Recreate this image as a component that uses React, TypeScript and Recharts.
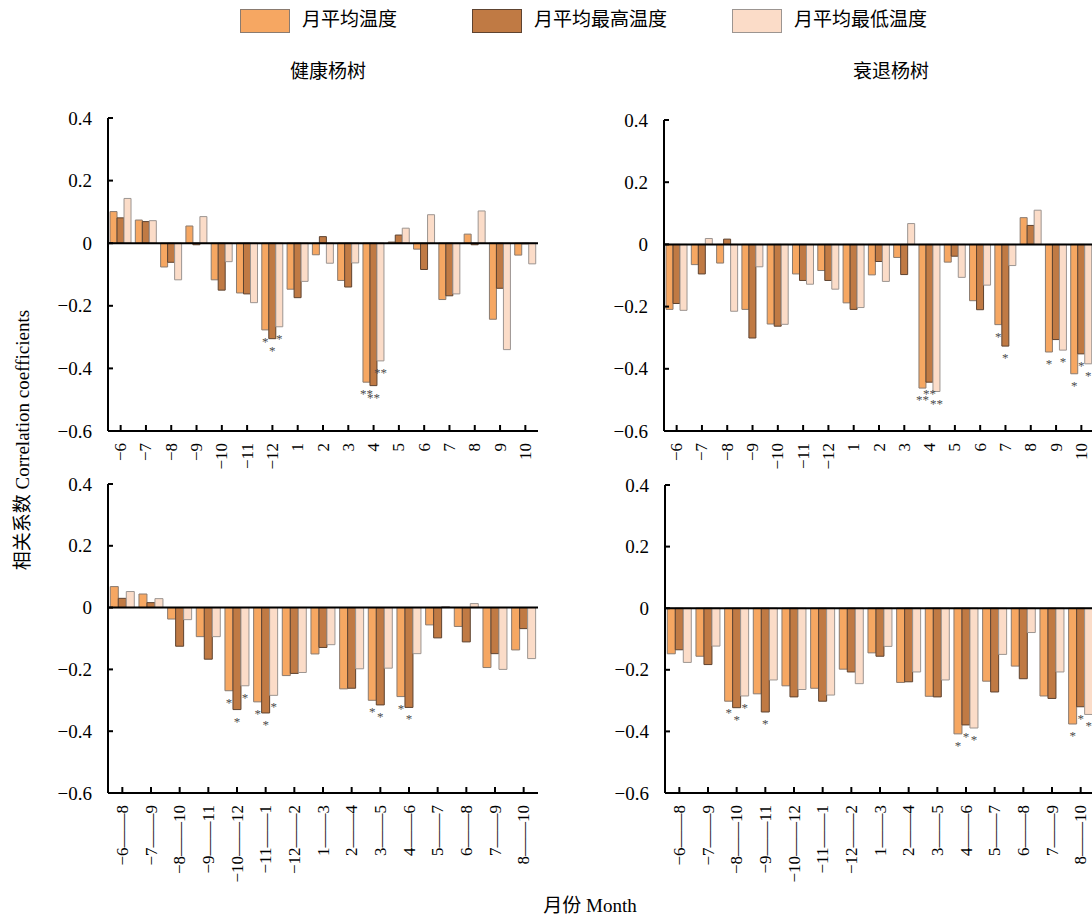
import { Bar, BarChart, LabelList, ReferenceLine, XAxis, YAxis } from 'recharts'

const FONT = '"Liberation Serif", "Times New Roman", "Noto Sans CJK SC", serif'

const seriesNames = ['月平均温度', '月平均最高温度', '月平均最低温度']
const fills = ['#F6A762', '#C07A44', '#FBDCC8']
const strokes = ['#8a7b70', '#5e4330', '#9c9591']

const monthLabels = ['−6', '−7', '−8', '−9', '−10', '−11', '−12', '1', '2', '3', '4', '5', '6', '7', '8', '9', '10']
const rangeLabels = ['−6—8', '−7—9', '−8—10', '−9—11', '−10—12', '−11—1', '−12—2', '1—3', '2—4', '3—5', '4—6', '5—7', '6—8', '7—9', '8—10']
const yTicks = [0.4, 0.2, 0, -0.2, -0.4, -0.6]

// 健康杨树 – single months
const healthyMonthAvg = [0.101, 0.074, -0.076, 0.055, -0.117, -0.159, -0.277, -0.147, -0.037, -0.119, -0.444, 0.004, -0.019, -0.18, 0.029, -0.243, -0.038]
const healthyMonthMax = [0.081, 0.069, -0.061, -0.005, -0.15, -0.162, -0.305, -0.174, 0.021, -0.14, -0.455, 0.026, -0.084, -0.168, -0.005, -0.144, -0.002]
const healthyMonthMin = [0.143, 0.072, -0.117, 0.085, -0.059, -0.19, -0.267, -0.122, -0.064, -0.063, -0.376, 0.048, 0.091, -0.162, 0.103, -0.34, -0.066]
const healthyMonthAvgSig = ['', '', '', '', '', '', '*', '', '', '', '**', '', '', '', '', '', '']
const healthyMonthMaxSig = ['', '', '', '', '', '', '*', '', '', '', '**', '', '', '', '', '', '']
const healthyMonthMinSig = ['', '', '', '', '', '', '*', '', '', '', '**', '', '', '', '', '', '']

// 衰退杨树 – single months
const declineMonthAvg = [-0.209, -0.065, -0.06, -0.209, -0.256, -0.095, -0.084, -0.188, -0.098, -0.042, -0.462, -0.057, -0.181, -0.258, 0.086, -0.346, -0.416]
const declineMonthMax = [-0.19, -0.095, 0.017, -0.301, -0.263, -0.116, -0.116, -0.209, -0.055, -0.097, -0.443, -0.038, -0.21, -0.327, 0.061, -0.306, -0.352]
const declineMonthMin = [-0.212, 0.019, -0.215, -0.072, -0.257, -0.128, -0.144, -0.203, -0.119, 0.067, -0.473, -0.106, -0.131, -0.068, 0.11, -0.34, -0.384]
const declineMonthAvgSig = ['', '', '', '', '', '', '', '', '', '', '**', '', '', '*', '', '*', '*']
const declineMonthMaxSig = ['', '', '', '', '', '', '', '', '', '', '**', '', '', '*', '', '', '*']
const declineMonthMinSig = ['', '', '', '', '', '', '', '', '', '', '**', '', '', '', '', '*', '*']

// 健康杨树 – 3-month windows
const healthyRangeAvg = [0.068, 0.044, -0.037, -0.094, -0.269, -0.305, -0.22, -0.15, -0.263, -0.3, -0.288, -0.056, -0.061, -0.194, -0.137]
const healthyRangeMax = [0.03, 0.016, -0.125, -0.167, -0.33, -0.341, -0.213, -0.129, -0.261, -0.315, -0.323, -0.098, -0.111, -0.149, -0.068]
const healthyRangeMin = [0.052, 0.029, -0.039, -0.094, -0.253, -0.284, -0.21, -0.12, -0.198, -0.196, -0.149, 0.003, 0.013, -0.2, -0.165]
const healthyRangeAvgSig = ['', '', '', '', '*', '*', '', '', '', '*', '*', '', '', '', '']
const healthyRangeMaxSig = ['', '', '', '', '*', '*', '', '', '', '*', '*', '', '', '', '']
const healthyRangeMinSig = ['', '', '', '', '*', '*', '', '', '', '', '', '', '', '', '']

// 衰退杨树 – 3-month windows
const declineRangeAvg = [-0.148, -0.156, -0.302, -0.278, -0.252, -0.26, -0.198, -0.145, -0.241, -0.286, -0.408, -0.237, -0.188, -0.285, -0.376]
const declineRangeMax = [-0.135, -0.183, -0.323, -0.337, -0.288, -0.302, -0.207, -0.156, -0.239, -0.288, -0.379, -0.272, -0.229, -0.293, -0.32]
const declineRangeMin = [-0.176, -0.123, -0.285, -0.233, -0.264, -0.282, -0.245, -0.124, -0.207, -0.233, -0.389, -0.15, -0.079, -0.207, -0.345]
const declineRangeAvgSig = ['', '', '*', '', '', '', '', '', '', '', '*', '', '', '', '*']
const declineRangeMaxSig = ['', '', '*', '*', '', '', '', '', '', '', '*', '', '', '', '*']
const declineRangeMinSig = ['', '', '*', '', '', '', '', '', '', '', '*', '', '', '', '*']

function XTick({ x, y, payload }: any) {
  // the source typesets the range dash about two em wide
  const label = String(payload.value).replace('—', '——')
  return (
    <g>
      <line x1={x} x2={x} y1={y} y2={y - 6} stroke="#000" strokeWidth={2} />
      <text
        transform={`translate(${x},${y + 12}) rotate(-90)`}
        textAnchor="end"
        dominantBaseline="central"
        fontSize={17}
        fontFamily={FONT}
        fill="#000"
      >
        {label}
      </text>
    </g>
  )
}

function YTick({ x, y, payload }: any) {
  const v = payload.value as number
  const label = Math.abs(v) < 1e-9 ? '0' : (v < 0 ? '−' : '') + Math.abs(v).toFixed(1)
  return (
    <g>
      <line x1={x} x2={x + 5} y1={y} y2={y} stroke="#000" strokeWidth={2} />
      <text x={x - 16} y={y} textAnchor="end" dominantBaseline="central" fontSize={19} fontFamily={FONT} fill="#000">
        {label}
      </text>
    </g>
  )
}

function Star(props: any) {
  const { x, y, width, height, value } = props
  if (!value) return null
  const bottom = Math.max(y, y + height)
  return (
    <g opacity={0.99}>
      <text x={x + width / 2} y={bottom + 16} textAnchor="middle" fontSize={13} fontFamily={FONT} fill="#4a4a4a" stroke="none">
        {value}
      </text>
    </g>
  )
}

interface PanelProps {
  left: number
  top: number
  plotH: number
  labels: string[]
  avg: number[]
  max: number[]
  min: number[]
  sigAvg: string[]
  sigMax: string[]
  sigMin: string[]
}

function Panel({ left, top, plotH, labels, avg, max, min, sigAvg, sigMax, sigMin }: PanelProps) {
  const rows = labels.map((name, i) => ({
    name,
    avg: avg[i],
    max: max[i],
    min: min[i],
    sigAvg: sigAvg[i],
    sigMax: sigMax[i],
    sigMin: sigMin[i],
  }))
  const keys = [
    ['avg', 'sigAvg'],
    ['max', 'sigMax'],
    ['min', 'sigMin'],
  ]

  return (
    <div style={{ position: 'absolute', left: left - 70, top: top - 10 }}>
      <BarChart
        width={510}
        height={plotH + 120}
        data={rows}
        margin={{ top: 10, right: 10, bottom: 0, left: 0 }}
        barCategoryGap="8%"
        barGap={0}
      >
        <XAxis
          dataKey="name"
          interval={0}
          height={110}
          tickSize={0}
          tickMargin={0}
          tickLine={false}
          axisLine={{ stroke: '#000', strokeWidth: 2 }}
          tick={<XTick />}
        />
        <YAxis
          width={70}
          domain={[-0.6, 0.4]}
          ticks={yTicks}
          interval={0}
          allowDataOverflow
          tickSize={0}
          tickMargin={0}
          tickLine={false}
          axisLine={{ stroke: '#000', strokeWidth: 2 }}
          tick={<YTick />}
        />
        {keys.map(([k, s], i) => (
          <Bar key={k} dataKey={k} name={seriesNames[i]} fill={fills[i]} stroke={strokes[i]} strokeWidth={1} isAnimationActive={false}>
            <LabelList dataKey={s} content={<Star />} />
          </Bar>
        ))}
        <ReferenceLine y={0} stroke="#000" strokeWidth={2} />
      </BarChart>
    </div>
  )
}

export default function App() {
  return (
    <div
      style={{
        position: 'absolute',
        left: 0,
        top: 0,
        width: 1092,
        height: 918,
        overflow: 'hidden',
        background: '#fff',
        fontFamily: FONT,
        color: '#000',
      }}
    >
      {/* legend */}
      {[240, 472, 732].map((x, i) => (
        <div key={i}>
          <div
            style={{
              position: 'absolute',
              left: x,
              top: 9,
              width: 48,
              height: 22,
              background: fills[i],
              border: `1px solid ${strokes[i]}`,
            }}
          />
          <div style={{ position: 'absolute', left: x + 62, top: 7, fontSize: 19, lineHeight: '26px', whiteSpace: 'nowrap' }}>
            {seriesNames[i]}
          </div>
        </div>
      ))}

      <div style={{ position: 'absolute', left: 228, width: 200, top: 59, textAlign: 'center', fontSize: 19, lineHeight: '26px' }}>
        健康杨树
      </div>
      <div style={{ position: 'absolute', left: 791, width: 200, top: 59, textAlign: 'center', fontSize: 19, lineHeight: '26px' }}>
        衰退杨树
      </div>

      <Panel left={108} top={118} plotH={313} labels={monthLabels} avg={healthyMonthAvg} max={healthyMonthMax} min={healthyMonthMin} sigAvg={healthyMonthAvgSig} sigMax={healthyMonthMaxSig} sigMin={healthyMonthMinSig} />
      <Panel left={664} top={120} plotH={311} labels={monthLabels} avg={declineMonthAvg} max={declineMonthMax} min={declineMonthMin} sigAvg={declineMonthAvgSig} sigMax={declineMonthMaxSig} sigMin={declineMonthMinSig} />
      <Panel left={108} top={484} plotH={309} labels={rangeLabels} avg={healthyRangeAvg} max={healthyRangeMax} min={healthyRangeMin} sigAvg={healthyRangeAvgSig} sigMax={healthyRangeMaxSig} sigMin={healthyRangeMinSig} />
      <Panel left={665} top={485} plotH={308} labels={rangeLabels} avg={declineRangeAvg} max={declineRangeMax} min={declineRangeMin} sigAvg={declineRangeAvgSig} sigMax={declineRangeMaxSig} sigMin={declineRangeMinSig} />

      <div
        style={{
          position: 'absolute',
          left: 20,
          top: 440,
          transform: 'translate(-50%, -50%) rotate(-90deg)',
          fontSize: 19,
          whiteSpace: 'nowrap',
        }}
      >
        相关系数 Correlation coefficients
      </div>
      <div style={{ position: 'absolute', left: 490, width: 200, top: 893, textAlign: 'center', fontSize: 19, lineHeight: '26px' }}>
        月份 Month
      </div>
    </div>
  )
}
